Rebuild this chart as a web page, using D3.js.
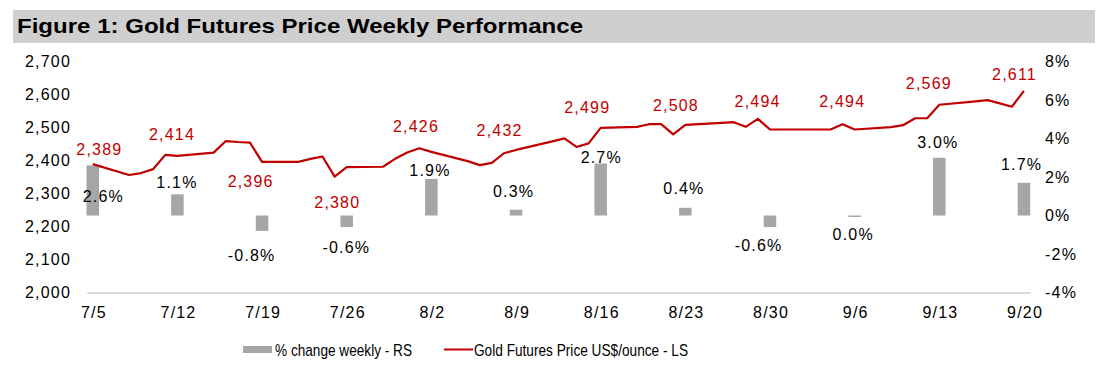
<!DOCTYPE html>
<html><head><meta charset="utf-8">
<script src="https://cdn.jsdelivr.net/npm/d3@7"></script>
<style>
html,body{margin:0;padding:0;background:#fff;}
svg{display:block;font-family:"Liberation Sans",Arial,sans-serif;}
</style></head><body>
<svg id="chart" width="1110" height="369"></svg>
<script>
// ---------- DATA ----------
const titleText = "Figure 1: Gold Futures Price Weekly Performance";
const weekDates = ["2024-07-05","2024-07-12","2024-07-19","2024-07-26","2024-08-02","2024-08-09","2024-08-16","2024-08-23","2024-08-30","2024-09-06","2024-09-13","2024-09-20"];
const weekLabels = ["7/5","7/12","7/19","7/26","8/2","8/9","8/16","8/23","8/30","9/6","9/13","9/20"];
const weeklyPct = [2.6, 1.1, -0.8, -0.6, 1.9, 0.3, 2.7, 0.4, -0.6, 0.0, 3.0, 1.7];
const weeklyClose = [2389, 2414, 2396, 2380, 2426, 2432, 2499, 2508, 2494, 2494, 2569, 2611];
const dailyDates = ["2024-07-05","2024-07-08","2024-07-09","2024-07-10","2024-07-11","2024-07-12",
  "2024-07-15","2024-07-16","2024-07-17","2024-07-18","2024-07-19",
  "2024-07-22","2024-07-23","2024-07-24","2024-07-25","2024-07-26",
  "2024-07-29","2024-07-30","2024-07-31","2024-08-01","2024-08-02",
  "2024-08-05","2024-08-06","2024-08-07","2024-08-08","2024-08-09",
  "2024-08-12","2024-08-13","2024-08-14","2024-08-15","2024-08-16",
  "2024-08-19","2024-08-20","2024-08-21","2024-08-22","2024-08-23",
  "2024-08-26","2024-08-27","2024-08-28","2024-08-29","2024-08-30",
  "2024-09-03","2024-09-04","2024-09-05","2024-09-06",
  "2024-09-09","2024-09-10","2024-09-11","2024-09-12","2024-09-13",
  "2024-09-16","2024-09-17","2024-09-18","2024-09-19","2024-09-20"];
const dailyPrice = [2389, 2356, 2362, 2374, 2417, 2414,
  2424, 2459, 2456, 2454, 2396,
  2396, 2405, 2412, 2351, 2380,
  2381, 2405, 2424, 2437, 2426,
  2398, 2386, 2393, 2422, 2432,
  2458, 2467, 2441, 2452, 2499,
  2502, 2510, 2510, 2479, 2508,
  2514, 2516, 2502, 2526, 2494,
  2494, 2494, 2510, 2494,
  2501, 2507, 2528, 2528, 2569,
  2579, 2583, 2573, 2563, 2611];
const leftTicks = [2000, 2100, 2200, 2300, 2400, 2500, 2600, 2700];
const rightTicks = [-4, -2, 0, 2, 4, 6, 8];
const legendLabels = ["% change weekly - RS", "Gold Futures Price US$/ounce - LS"];

// ---------- LAYOUT (label nudges, px) ----------
const priceLabelOffset = [[6,-15],[-6,-21],[-12,20],[-10,35],[-16,-26],[-17,-20],[-14,-20],[-10,-19],[-13,-28],[-13,-28],[-11,-21],[-10,-16]];
const pctLabelOffset = [[10,31],[-1,-12],[-11,24],[-1,20],[-2,-9],[-3,-18],[0,-6],[-2,-19],[-12,18],[-2,18.5],[-2,-15],[-3,-18]];

const RED = "#c00000", GREY = "#a6a6a6";
const parse = d3.utcParse("%Y-%m-%d");
const svg = d3.select("#chart");
const halfDay = 12 * 3600 * 1000;

// title bar
svg.append("rect").attr("x", 13).attr("y", 10).attr("width", 1082).attr("height", 33).attr("fill", "#d0cfcf");
svg.append("text").attr("x", 17).attr("y", 33).attr("font-size", 21).attr("font-weight", "bold")
  .attr("fill", "#000").attr("textLength", 566).attr("lengthAdjust", "spacingAndGlyphs").text(titleText);

const x = d3.scaleUtc()
  .domain([new Date(+parse(weekDates[0]) - halfDay), new Date(+parse(weekDates[weekDates.length - 1]) + halfDay)])
  .range([86.7, 1030]);
const yL = d3.scaleLinear().domain([2000, 2700]).range([292.5, 61.5]);
const yR = d3.scaleLinear().domain([-4, 8]).range([292.5, 61.5]);

// axes
const gL = svg.append("g").attr("transform", "translate(87,0)")
  .call(d3.axisLeft(yL).tickValues(leftTicks).tickSize(0).tickPadding(16).tickFormat(d3.format(",")));
const gR = svg.append("g").attr("transform", "translate(1030,0)")
  .call(d3.axisRight(yR).tickValues(rightTicks).tickSize(0).tickPadding(15).tickFormat(d => d + "%"));
const gB = svg.append("g").attr("transform", "translate(0,292.5)")
  .call(d3.axisBottom(x).tickValues(weekDates.map(parse)).tickSize(0).tickSizeOuter(0).tickPadding(14)
    .tickFormat((d, i) => weekLabels[i]));
[gL, gR].forEach(g => g.select(".domain").remove());
gB.select(".domain").attr("stroke", "#d9d9d9").attr("stroke-width", 2);
[gL, gR, gB].forEach(g => g.selectAll("text").attr("font-size", 16).attr("fill", "#000")
  .attr("font-family", "'Liberation Sans',Arial,sans-serif").style("letter-spacing", "1.2px"));
gB.selectAll("text").attr("dx", "0.6px");

// bars
const bw = 12.5;
svg.append("g").selectAll("rect").data(weeklyPct).join("rect")
  .attr("x", (d, i) => x(parse(weekDates[i])) - bw / 2)
  .attr("y", d => d > 0 ? yR(d) : yR(0))
  .attr("width", bw)
  .attr("height", d => Math.max(Math.abs(yR(d) - yR(0)), 1.5))
  .attr("fill", GREY);

// line
const daily = dailyDates.map((d, i) => ({date: parse(d), v: dailyPrice[i]}));
svg.append("path").datum(daily)
  .attr("d", d3.line().x(d => x(d.date)).y(d => yL(d.v)))
  .attr("fill", "none").attr("stroke", RED).attr("stroke-width", 2.2).attr("stroke-linejoin", "round");

// price labels
svg.append("g").selectAll("text").data(weeklyClose).join("text")
  .attr("x", (d, i) => x(parse(weekDates[i])) + priceLabelOffset[i][0] + 0.6)
  .attr("y", (d, i) => yL(d) + priceLabelOffset[i][1])
  .attr("dy", "0.35em").attr("text-anchor", "middle").attr("font-size", 16)
  .attr("fill", RED).style("letter-spacing", "1.2px")
  .text(d => d3.format(",")(d));

// pct labels
svg.append("g").selectAll("text").data(weeklyPct).join("text")
  .attr("x", (d, i) => x(parse(weekDates[i])) + pctLabelOffset[i][0] + 0.6)
  .attr("y", (d, i) => yR(d) + pctLabelOffset[i][1])
  .attr("dy", "0.35em").attr("text-anchor", "middle").attr("font-size", 16)
  .attr("fill", "#000").style("letter-spacing", "1.2px")
  .text(d => d.toFixed(1) + "%");

// legend
const lg = svg.append("g");
lg.append("rect").attr("x", 243).attr("y", 346).attr("width", 29).attr("height", 7).attr("fill", GREY);
lg.append("text").attr("x", 275).attr("y", 356).attr("font-size", 17).attr("fill", "#000")
  .attr("textLength", 137).attr("lengthAdjust", "spacingAndGlyphs").text(legendLabels[0]);
lg.append("line").attr("x1", 444).attr("x2", 473).attr("y1", 349.5).attr("y2", 349.5)
  .attr("stroke", RED).attr("stroke-width", 2);
lg.append("text").attr("x", 474).attr("y", 356).attr("font-size", 17).attr("fill", "#000")
  .attr("textLength", 214).attr("lengthAdjust", "spacingAndGlyphs").text(legendLabels[1]);
</script>
</body></html>
